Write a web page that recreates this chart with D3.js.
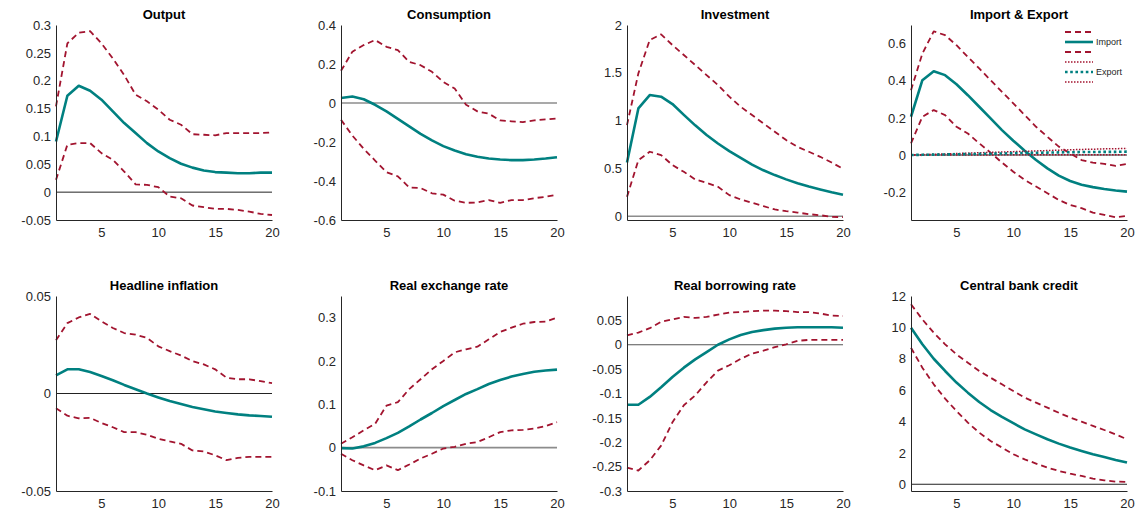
<!DOCTYPE html>
<html>
<head>
<meta charset="utf-8">
<script src="https://cdn.jsdelivr.net/npm/d3@7/dist/d3.min.js"></script>
<style>
  html, body { margin: 0; padding: 0; background: #fff; }
  svg { display: block; }
  text { font-family: "Liberation Sans", Arial, Helvetica, sans-serif; }
</style>
</head>
<body>
<svg id="chart" width="1140" height="511"></svg>
<script>
// ---------------- DATA ----------------
const periods = d3.range(1, 21);
const xTicks = [5, 10, 15, 20];

const titles = ["Output", "Consumption", "Investment", "Import & Export",
                "Headline inflation", "Real exchange rate", "Real borrowing rate", "Central bank credit"];

const yDomains = [[-0.05, 0.3], [-0.6, 0.4], [-0.04, 2], [-0.35, 0.7],
                  [-0.05, 0.05], [-0.1, 0.35], [-0.3, 0.1], [-0.43, 12]];
const yTicks = [
  [-0.05, 0, 0.05, 0.1, 0.15, 0.2, 0.25, 0.3],
  [-0.6, -0.4, -0.2, 0, 0.2, 0.4],
  [0, 0.5, 1, 1.5, 2],
  [-0.2, 0, 0.2, 0.4, 0.6],
  [-0.05, 0, 0.05],
  [-0.1, 0, 0.1, 0.2, 0.3],
  [-0.3, -0.25, -0.2, -0.15, -0.1, -0.05, 0, 0.05],
  [0, 2, 4, 6, 8, 10, 12]
];

const outputMean  = [0.091,0.173,0.191,0.182,0.166,0.145,0.124,0.106,0.088,0.073,0.061,0.051,0.044,0.039,0.036,0.035,0.034,0.034,0.035,0.035];
const outputUpper = [0.154,0.267,0.286,0.289,0.267,0.240,0.210,0.175,0.163,0.148,0.130,0.121,0.104,0.103,0.102,0.106,0.106,0.106,0.106,0.107];
const outputLower = [0.022,0.085,0.088,0.088,0.070,0.058,0.037,0.014,0.013,0.009,-0.008,-0.011,-0.024,-0.027,-0.030,-0.030,-0.032,-0.035,-0.039,-0.041];

const consMean  = [0.026,0.033,0.019,-0.009,-0.043,-0.081,-0.120,-0.158,-0.192,-0.221,-0.244,-0.263,-0.276,-0.285,-0.290,-0.293,-0.293,-0.290,-0.285,-0.278];
const consUpper = [0.165,0.263,0.297,0.323,0.288,0.271,0.211,0.194,0.160,0.108,0.074,-0.009,-0.043,-0.055,-0.089,-0.094,-0.098,-0.089,-0.084,-0.079];
const consLower = [-0.086,-0.167,-0.235,-0.295,-0.355,-0.376,-0.433,-0.436,-0.463,-0.470,-0.501,-0.512,-0.510,-0.498,-0.512,-0.498,-0.498,-0.488,-0.481,-0.470];

const invMean  = [0.562,1.127,1.267,1.250,1.173,1.060,0.950,0.850,0.760,0.680,0.610,0.540,0.480,0.430,0.385,0.345,0.310,0.280,0.250,0.225];
const invUpper = [0.953,1.494,1.843,1.902,1.790,1.686,1.581,1.476,1.372,1.250,1.145,1.058,0.970,0.883,0.796,0.726,0.674,0.621,0.562,0.495];
const invLower = [0.202,0.586,0.674,0.639,0.534,0.464,0.384,0.349,0.307,0.220,0.175,0.140,0.105,0.070,0.052,0.038,0.021,0.010,-0.007,-0.010];

const importMean  = [0.206,0.403,0.451,0.430,0.381,0.322,0.260,0.197,0.134,0.077,0.023,-0.027,-0.072,-0.111,-0.140,-0.160,-0.173,-0.183,-0.191,-0.197];
const importUpper = [0.349,0.546,0.666,0.645,0.591,0.528,0.466,0.403,0.340,0.278,0.215,0.152,0.098,0.045,0.009,-0.027,-0.041,-0.048,-0.059,-0.048];
const importLower = [0.063,0.206,0.242,0.215,0.152,0.116,0.063,0.013,-0.041,-0.090,-0.134,-0.170,-0.206,-0.242,-0.269,-0.286,-0.310,-0.322,-0.335,-0.328];
const exportMean  = [0.000,0.001,0.002,0.003,0.004,0.005,0.006,0.007,0.008,0.010,0.011,0.012,0.013,0.014,0.015,0.016,0.016,0.017,0.017,0.018];
const exportUpper = [0.000,0.002,0.004,0.006,0.008,0.010,0.012,0.014,0.016,0.018,0.020,0.022,0.024,0.026,0.028,0.030,0.031,0.033,0.034,0.035];
const exportLower = [0.000,0.000,0.000,0.000,0.000,0.000,0.000,0.000,0.001,0.001,0.001,0.001,0.001,0.001,0.001,0.002,0.002,0.002,0.002,0.002];

const inflMean  = [0.0093,0.0124,0.0124,0.0110,0.0090,0.0068,0.0044,0.0022,0.0000,-0.0020,-0.0039,-0.0054,-0.0069,-0.0081,-0.0092,-0.0100,-0.0107,-0.0112,-0.0115,-0.0119];
const inflUpper = [0.0273,0.0361,0.0390,0.0408,0.0370,0.0336,0.0310,0.0302,0.0285,0.0242,0.0217,0.0195,0.0166,0.0149,0.0124,0.0081,0.0073,0.0073,0.0063,0.0053];
const inflLower = [-0.0076,-0.0114,-0.0127,-0.0125,-0.0151,-0.0173,-0.0198,-0.0198,-0.0212,-0.0232,-0.0246,-0.0258,-0.0292,-0.0297,-0.0317,-0.0342,-0.0330,-0.0325,-0.0325,-0.0325];

const rerMean  = [-0.001,-0.002,0.003,0.011,0.022,0.034,0.049,0.065,0.080,0.096,0.110,0.124,0.135,0.147,0.156,0.164,0.170,0.175,0.178,0.180];
const rerUpper = [0.009,0.024,0.040,0.055,0.097,0.105,0.135,0.158,0.181,0.200,0.220,0.227,0.233,0.250,0.267,0.277,0.286,0.290,0.291,0.300];
const rerLower = [-0.014,-0.029,-0.041,-0.052,-0.041,-0.052,-0.039,-0.025,-0.014,-0.002,0.002,0.009,0.013,0.024,0.036,0.040,0.041,0.044,0.050,0.059];

const rbrMean  = [-0.123,-0.123,-0.107,-0.087,-0.066,-0.047,-0.030,-0.015,0.000,0.011,0.020,0.026,0.030,0.033,0.035,0.036,0.036,0.036,0.036,0.035];
const rbrUpper = [0.019,0.025,0.034,0.047,0.052,0.057,0.055,0.057,0.062,0.066,0.067,0.069,0.070,0.070,0.069,0.067,0.067,0.064,0.060,0.059];
const rbrLower = [-0.252,-0.258,-0.237,-0.207,-0.159,-0.124,-0.104,-0.077,-0.053,-0.042,-0.029,-0.018,-0.012,-0.005,0.001,0.008,0.010,0.010,0.010,0.010];

const cbcMean  = [9.98,8.92,8.00,7.22,6.48,5.84,5.24,4.73,4.29,3.89,3.50,3.18,2.87,2.59,2.34,2.12,1.91,1.74,1.55,1.38];
const cbcUpper = [11.47,10.51,9.66,8.92,8.28,7.75,7.22,6.79,6.37,5.94,5.52,5.20,4.88,4.56,4.25,3.99,3.72,3.46,3.18,2.87];
const cbcLower = [8.70,7.43,6.37,5.46,4.67,3.93,3.29,2.76,2.34,1.91,1.59,1.32,1.06,0.85,0.68,0.53,0.36,0.25,0.17,0.15];

const legendLabels = ["", "Import", "", "", "Export", ""];

// ---------------- STYLE / LAYOUT ----------------
const TEAL = "rgb(0,128,128)";
const RED = "rgb(162,20,47)";
const colLeft = [56, 341, 627, 911];
const rowTop = [25, 296];
const plotW = 216, plotH = 195;
const zeroStyle = [
  {c: "#222", w: 1}, {c: "#8c8c8c", w: 1.6}, {c: "#8c8c8c", w: 1.6}, {c: "#222", w: 1},
  {c: "#222", w: 1}, {c: "#8c8c8c", w: 1.6}, {c: "#555", w: 1.2}, {c: "#222", w: 1}
];

const panels = [
  [{d: outputUpper, t: "band"}, {d: outputLower, t: "band"}, {d: outputMean, t: "mean"}],
  [{d: consUpper, t: "band"}, {d: consLower, t: "band"}, {d: consMean, t: "mean"}],
  [{d: invUpper, t: "band"}, {d: invLower, t: "band"}, {d: invMean, t: "mean"}],
  [{d: importUpper, t: "band"}, {d: importLower, t: "band"}, {d: importMean, t: "mean"},
   {d: exportUpper, t: "dotband"}, {d: exportLower, t: "dotband"}, {d: exportMean, t: "dotmean"}],
  [{d: inflUpper, t: "band"}, {d: inflLower, t: "band"}, {d: inflMean, t: "mean"}],
  [{d: rerUpper, t: "band"}, {d: rerLower, t: "band"}, {d: rerMean, t: "mean"}],
  [{d: rbrUpper, t: "band"}, {d: rbrLower, t: "band"}, {d: rbrMean, t: "mean"}],
  [{d: cbcUpper, t: "band"}, {d: cbcLower, t: "band"}, {d: cbcMean, t: "mean"}]
];

const styleOf = {
  band:    {c: RED,  w: 1.8, dash: "6,4"},
  mean:    {c: TEAL, w: 2.6, dash: null},
  dotband: {c: RED,  w: 1.5, dash: "1.5,1.5"},
  dotmean: {c: TEAL, w: 2.6, dash: "2.6,2.6"}
};

const svg = d3.select("#chart");
const fmt = v => String(v);

panels.forEach((series, i) => {
  const col = i % 4, row = Math.floor(i / 4);
  const g = svg.append("g").attr("transform", `translate(${colLeft[col]},${rowTop[row]})`);
  const x = d3.scaleLinear().domain([1, 20]).range([0, plotW]);
  const y = d3.scaleLinear().domain(yDomains[i]).range([plotH, 0]);

  // zero line
  g.append("line")
    .attr("x1", x(1)).attr("x2", x(20)).attr("y1", y(0)).attr("y2", y(0))
    .attr("stroke", zeroStyle[i].c).attr("stroke-width", zeroStyle[i].w);

  const line = d3.line().x((d, k) => x(periods[k])).y(d => y(d));
  series.forEach(s => {
    const st = styleOf[s.t];
    g.append("path").datum(s.d).attr("d", line)
      .attr("fill", "none").attr("stroke", st.c).attr("stroke-width", st.w)
      .attr("stroke-dasharray", st.dash).attr("stroke-linejoin", "round");
  });

  // axes
  const ax = g.append("g").attr("transform", `translate(0,${plotH})`)
    .call(d3.axisBottom(x).tickValues(xTicks).tickSize(0).tickPadding(8).tickFormat(fmt));
  const ay = g.append("g")
    .call(d3.axisLeft(y).tickValues(yTicks[i]).tickSize(0).tickPadding(5).tickFormat(fmt));
  [ax, ay].forEach(a => {
    a.select(".domain").attr("stroke", "#262626").attr("stroke-width", 1);
    a.selectAll("text").attr("font-size", 13).attr("fill", "#262626")
      .attr("font-family", "'Liberation Sans', Arial, sans-serif");
  });

  g.append("text").attr("x", plotW / 2).attr("y", -6)
    .attr("text-anchor", "middle").attr("font-weight", "bold").attr("font-size", 13)
    .attr("fill", "#000").text(titles[i]);

  if (i === 3) {
    const lg = svg.append("g").attr("transform", "translate(1065,32)");
    const legStyles = ["band", "mean", "band", "dotband", "dotmean", "dotband"];
    legendLabels.forEach((lab, k) => {
      const st = styleOf[legStyles[k]];
      lg.append("line").attr("x1", 0).attr("x2", 28).attr("y1", k * 10).attr("y2", k * 10)
        .attr("stroke", st.c).attr("stroke-width", st.w).attr("stroke-dasharray", st.dash);
      if (lab) lg.append("text").attr("x", 31).attr("y", k * 10 + 3)
        .attr("font-size", 9).attr("fill", "#262626").text(lab);
    });
  }
});
</script>
</body>
</html>
